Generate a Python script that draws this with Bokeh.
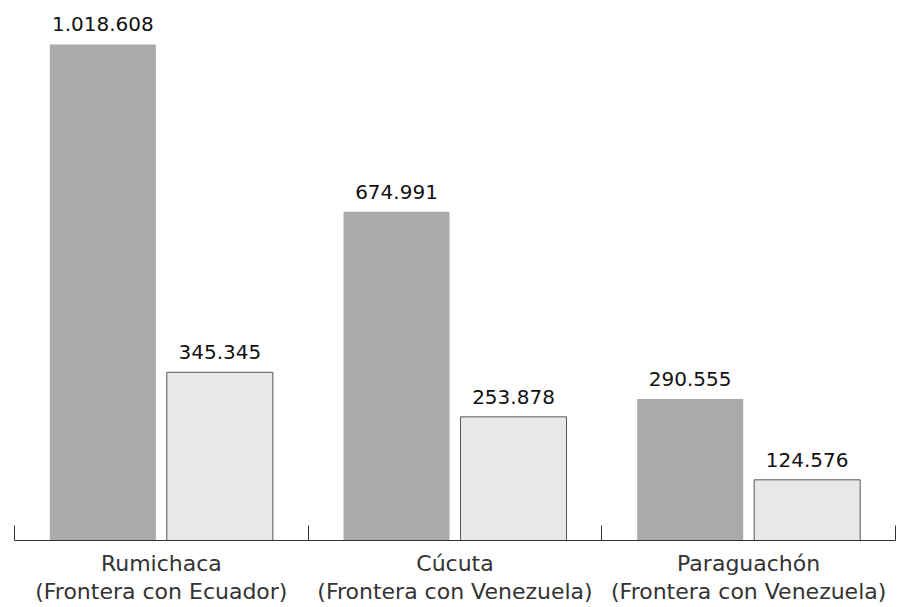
from bokeh.plotting import figure
from bokeh.models import ColumnDataSource, Range1d, FixedTicker
from bokeh.transform import dodge
from bokeh.core.properties import value
from bokeh.embed import file_html
from bokeh.resources import INLINE

categories = ["Rumichaca\n(Frontera con Ecuador)",
              "Cúcuta\n(Frontera con Venezuela)",
              "Paraguachón\n(Frontera con Venezuela)"]
serie_a = [1018608, 674991, 290555]
serie_b = [345345, 253878, 124576]

def fmt(v):
    return f"{v:,}".replace(",", ".")

xs = [i + 0.5 for i in range(len(categories))]
src = ColumnDataSource(dict(
    x=xs, a=serie_a, b=serie_b,
    la=[fmt(v) for v in serie_a], lb=[fmt(v) for v in serie_b],
))

W, H = 922, 607
p = figure(width=W, height=H, output_backend="svg", toolbar_location=None,
           x_range=Range1d(0, 3), y_range=Range1d(0, 1108700),
           y_axis_location=None, min_border_left=14, min_border_right=27,
           min_border_top=0, min_border_bottom=66)
p.outline_line_color = None
p.xgrid.visible = False
p.ygrid.visible = False
p.background_fill_color = "white"
p.border_fill_color = "white"

off = 0.1992
bw = 0.361
p.vbar(x=dodge("x", -off), top="a", width=bw, source=src,
       fill_color="#aaaaaa", line_color=None)
p.vbar(x=dodge("x", off), top="b", width=bw, source=src,
       fill_color="#e8e8e8", line_color="#555555", line_width=1)

for col, lab, d in (("a", "la", -off), ("b", "lb", off)):
    p.text(x=dodge("x", d), y=col, text=lab, source=src,
           text_align="center", text_baseline="alphabetic", y_offset=-20,
           text_font=value("DejaVu Sans"), text_font_size="20px",
           text_color="#111111")

ax = p.xaxis[0]
ax.ticker = FixedTicker(ticks=xs, minor_ticks=[0, 1, 2, 3])
ax.major_label_overrides = {x: c for x, c in zip(xs, categories)}
ax.major_tick_in = 0
ax.major_tick_out = 0
ax.minor_tick_in = 15
ax.minor_tick_out = 0
ax.minor_tick_line_color = "#333333"
ax.axis_line_color = "#333333"
ax.major_label_standoff = 10
ax.major_label_text_font = "DejaVu Sans"
ax.major_label_text_font_size = "22px"
ax.major_label_text_color = "#333333"
ax.major_label_text_line_height = 1.15

open("out.html", "w").write(file_html(p, INLINE))
